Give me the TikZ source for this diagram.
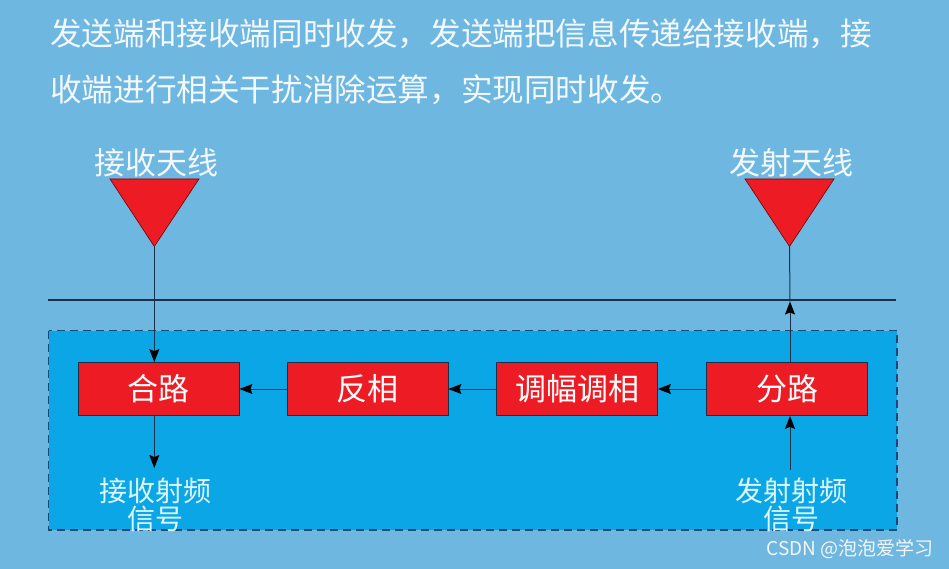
\documentclass[tikz,border=0pt]{standalone}
\usepackage{fontspec}
\setmainfont{Noto Sans CJK SC}
\usetikzlibrary{arrows.meta}
\definecolor{bgblue}{HTML}{6DB7E1}
\definecolor{boxblue}{HTML}{0BA6E6}
\definecolor{dashblue}{HTML}{174A78}
\definecolor{blockred}{HTML}{ED1C24}
\definecolor{linecol}{HTML}{1B2F48}
\definecolor{titlewhite}{HTML}{F2F8FC}
\definecolor{labelcyan}{HTML}{DDF5FF}
\tikzset{
  titletext/.style={anchor=west,inner sep=0pt,text=titlewhite,font=\fontsize{31.6}{36}\selectfont},
  antlabel/.style={inner sep=0pt,text=titlewhite,font=\fontsize{31}{36}\selectfont},
  block/.style={draw=linecol,line width=0.8pt,fill=blockred,minimum width=161pt,minimum height=53pt,inner sep=0pt,text=white,font=\fontsize{31}{36}\selectfont},
  siglabel/.style={inner sep=0pt,align=center,text=labelcyan,font=\fontsize{28}{28}\selectfont},
  conn/.style={draw=linecol,line width=1pt},
  arr/.style={conn,-{Stealth[length=13pt,width=10pt,inset=2pt,color=black,fill=black]}},
  antenna/.style={fill=blockred,draw=red!45!black,line width=0.6pt}
}
\begin{document}
\begin{tikzpicture}[x=1pt,y=-1pt]
\fill[bgblue] (0,0) rectangle (949,569);
\useasboundingbox (0,0) rectangle (949,569);
% title
\node[titletext] (t1) at (50,34) {发送端和接收端同时收发，发送端把信息传递给接收端，接};
\node[titletext] (t2) at (50,90) {收端进行相关干扰消除运算，实现同时收发。};
% dashed box
\draw[fill=boxblue,draw=dashblue,line width=1.5pt,dash pattern=on 8pt off 5pt] (48.5,330.5) rectangle (897,530);
% horizontal line
\draw[linecol,line width=1.2pt] (48,300) coordinate (hlL) -- (896,300) coordinate (hlR);
% antennas
\fill[antenna] (110,179) -- (199,179) -- (154.3,246.5) -- cycle;
\coordinate (ra) at (154.3,246.5);
\fill[antenna] (745,179) -- (834,179) -- (789.5,246.5) -- cycle;
\coordinate (ta) at (789.5,246.5);
\node[antlabel] (ral) at (156,163) {接收天线};
\node[antlabel] (tal) at (791,163) {发射天线};
% blocks
\node[block] (he) at (158.5,389) {合路};
\node[block] (fx) at (367.5,389) {反相};
\node[block] (tf) at (577,389) {调幅调相};
\node[block] (fl) at (787,389) {分路};
% labels
\node[siglabel] (rxs) at (155,505) {接收射频\\信号};
\node[siglabel] (txs) at (791,505) {发射射频\\信号};
\coordinate (rxe) at (154.3,468);
\coordinate (txe) at (790,470);
\coordinate (tmid) at (790,301.5);
% connectors
\draw[arr] (ra) -- (ra |- he.north);
\draw[arr] (he.south -| ra) -- (rxe);
\draw[arr] (fl) -- (tf);
\draw[arr] (tf) -- (fx);
\draw[arr] (fx) -- (he);
\draw[arr] (txe) -- (txe |- fl.south);
\draw[arr] (fl.north -| txe) -- (tmid);
\draw[conn] (tmid) -- (ta);
% watermark
\node[inner sep=0pt,text=white!92!gray,font=\fontsize{19}{22}\selectfont] (wm) at (850,549) {CSDN @泡泡爱学习};
\end{tikzpicture}
\end{document}
